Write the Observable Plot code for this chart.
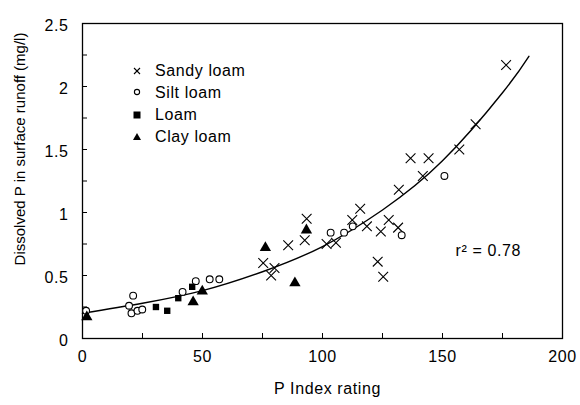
<!DOCTYPE html>
<html><head><meta charset="utf-8">
<script src="https://cdn.jsdelivr.net/npm/d3@7"></script>
<script src="https://cdn.jsdelivr.net/npm/@observablehq/plot@0.6"></script>
<style>
body{margin:0;background:#fff;}
#wrap{position:relative;width:580px;height:405px;font-family:"Liberation Sans",Arial,sans-serif;color:#000;}
#wrap svg.chart text{letter-spacing:0.6px;}
#legend{position:absolute;left:130px;top:60px;font-size:16px;letter-spacing:0.6px;}
#legend .row{height:22px;line-height:22px;display:flex;align-items:center;}
#legend .row svg{width:14px;height:14px;margin-right:11px;}
</style></head><body><div id="wrap"></div>
<script>
// Sandy loam (x)
const sandyX = [176.5,163.8,157,136.7,144.2,141.8,131.8,115.7,112.4,118.5,124.3,127.6,131.5,123,125.3,93.4,92.6,85.7,75.3,80,78.6,101.7,105.6];
const sandyY = [2.17,1.70,1.50,1.43,1.43,1.29,1.18,1.03,0.94,0.89,0.85,0.94,0.88,0.61,0.49,0.95,0.78,0.74,0.60,0.56,0.50,0.75,0.76];
// Silt loam (o)
const siltX = [1.5,21.1,19.4,20.4,22.9,24.9,41.7,47.2,53,57,103.4,109,112.6,133,150.8];
const siltY = [0.22,0.34,0.26,0.20,0.22,0.23,0.37,0.455,0.47,0.47,0.84,0.84,0.89,0.82,1.29];
// Loam (square)
const loamX = [30.6,35.3,39.9,45.7];
const loamY = [0.25,0.22,0.32,0.41];
// Clay loam (triangle)
const clayX = [1.8,46.1,49.9,76.2,88.5,93.3];
const clayY = [0.17,0.29,0.375,0.72,0.44,0.86];
// Fitted curve
const curveX = [0,25,50,75,100,125,150,175,186];
const curveY = [0.20,0.28,0.38,0.53,0.73,1.02,1.41,1.95,2.24];
// Ticks
const xLabelTicks = [0,50,100,150,200];
const xMarkTicks = [0,25,50,75,100,125,150,175,200];
const yLabelTicks = [0,0.5,1,1.5,2,2.5];
const yMarkTicks = [0,0.25,0.5,0.75,1,1.25,1.5,1.75,2,2.25,2.5];
const categories = ["Sandy loam","Silt loam","Loam","Clay loam"];
const xLabel = "P Index rating";
const yLabel = "Dissolved P in surface runoff (mg/l)";
const rLabel = "r\u00B2 = 0.78";

const toRows = (xs, ys) => xs.map((x,i)=>({x, y: ys[i]}));
const sandy = toRows(sandyX, sandyY);
const silt = toRows(siltX, siltY);
const loam = toRows(loamX, loamY);
const clay = toRows(clayX, clayY);
const curve = toRows(curveX, curveY);

const chart = Plot.plot({
  width: 580, height: 405,
  marginLeft: 82, marginRight: 18, marginTop: 23, marginBottom: 67,
  x: {domain: [0, 200]},
  y: {domain: [0, 2.5]},
  style: {fontFamily: '"Liberation Sans", Arial, sans-serif', fontSize: "16px", color: "#000", background: "#fff"},
  className: "chart",
  marks: [
    Plot.ruleX(xMarkTicks, {x: d => d, insetTop: 310, stroke: "#000", strokeWidth: 1}),
    Plot.ruleY(yMarkTicks, {y: d => d, insetRight: 475, stroke: "#000", strokeWidth: 1}),
    Plot.axisX({ticks: xLabelTicks, tickSize: 0, tickPadding: 12, label: null, tickFormat: d => String(d)}),
    Plot.axisY({ticks: yLabelTicks, tickSize: 0, tickPadding: 14, label: null, tickFormat: d => String(d), dy: 2}),
    Plot.frame({stroke: "#000", strokeWidth: 1.3}),
    Plot.line(curve, {x: "x", y: "y", curve: "natural", stroke: "#000", strokeWidth: 1.4}),
    Plot.dot(sandy, {x: "x", y: "y", symbol: "times", r: 4.5, stroke: "#000", strokeWidth: 1.1}),
    Plot.dot(silt, {x: "x", y: "y", symbol: "circle", r: 3.4, stroke: "#000", fill: "#fff", strokeWidth: 1.1}),
    Plot.dot(loam, {x: "x", y: "y", symbol: "square", r: 3.6, fill: "#000", stroke: "none"}),
    Plot.dot(clay, {x: "x", y: "y", symbol: "triangle", r: 4.2, fill: "#000", stroke: "none"}),
    Plot.text([rLabel], {frameAnchor: "top-left", textAnchor: "start", lineAnchor: "middle", dx: 373, dy: 227, fontSize: 16, fill: "#000"}),
    Plot.text([xLabel], {frameAnchor: "bottom", textAnchor: "middle", lineAnchor: "middle", dx: 5, dy: 50, fontSize: 16, fill: "#000"}),
    Plot.text([yLabel], {frameAnchor: "left", textAnchor: "middle", lineAnchor: "middle", rotate: -90, dx: -62, dy: -32, fontSize: 15, fill: "#000"})
  ]
});
chart.style.position = "absolute";
chart.style.left = "0px";
chart.style.top = "0px";
d3.select(chart).selectAll("text").filter(function(){ return this.textContent.startsWith("Dissolved"); }).style("letter-spacing", "0px");
const wrap = document.getElementById("wrap");
wrap.appendChild(chart);

// Legend inside the plot area
const symbolSvg = {
  "Sandy loam": '<line x1="4" y1="4" x2="10" y2="10" stroke="#000" stroke-width="1.1"/><line x1="10" y1="4" x2="4" y2="10" stroke="#000" stroke-width="1.1"/>',
  "Silt loam": '<circle cx="7" cy="6" r="2.6" fill="#fff" stroke="#000" stroke-width="1.1"/>',
  "Loam": '<rect x="3.5" y="3.5" width="7" height="7" fill="#000"/>',
  "Clay loam": '<polygon points="7,3 11,10 3,10" fill="#000"/>'
};
const legend = document.createElement("div");
legend.id = "legend";
legend.innerHTML = categories.map(c => `<div class="row"><svg viewBox="0 0 14 14">${symbolSvg[c]}</svg><span>${c}</span></div>`).join("");
wrap.appendChild(legend);
</script></body></html>
